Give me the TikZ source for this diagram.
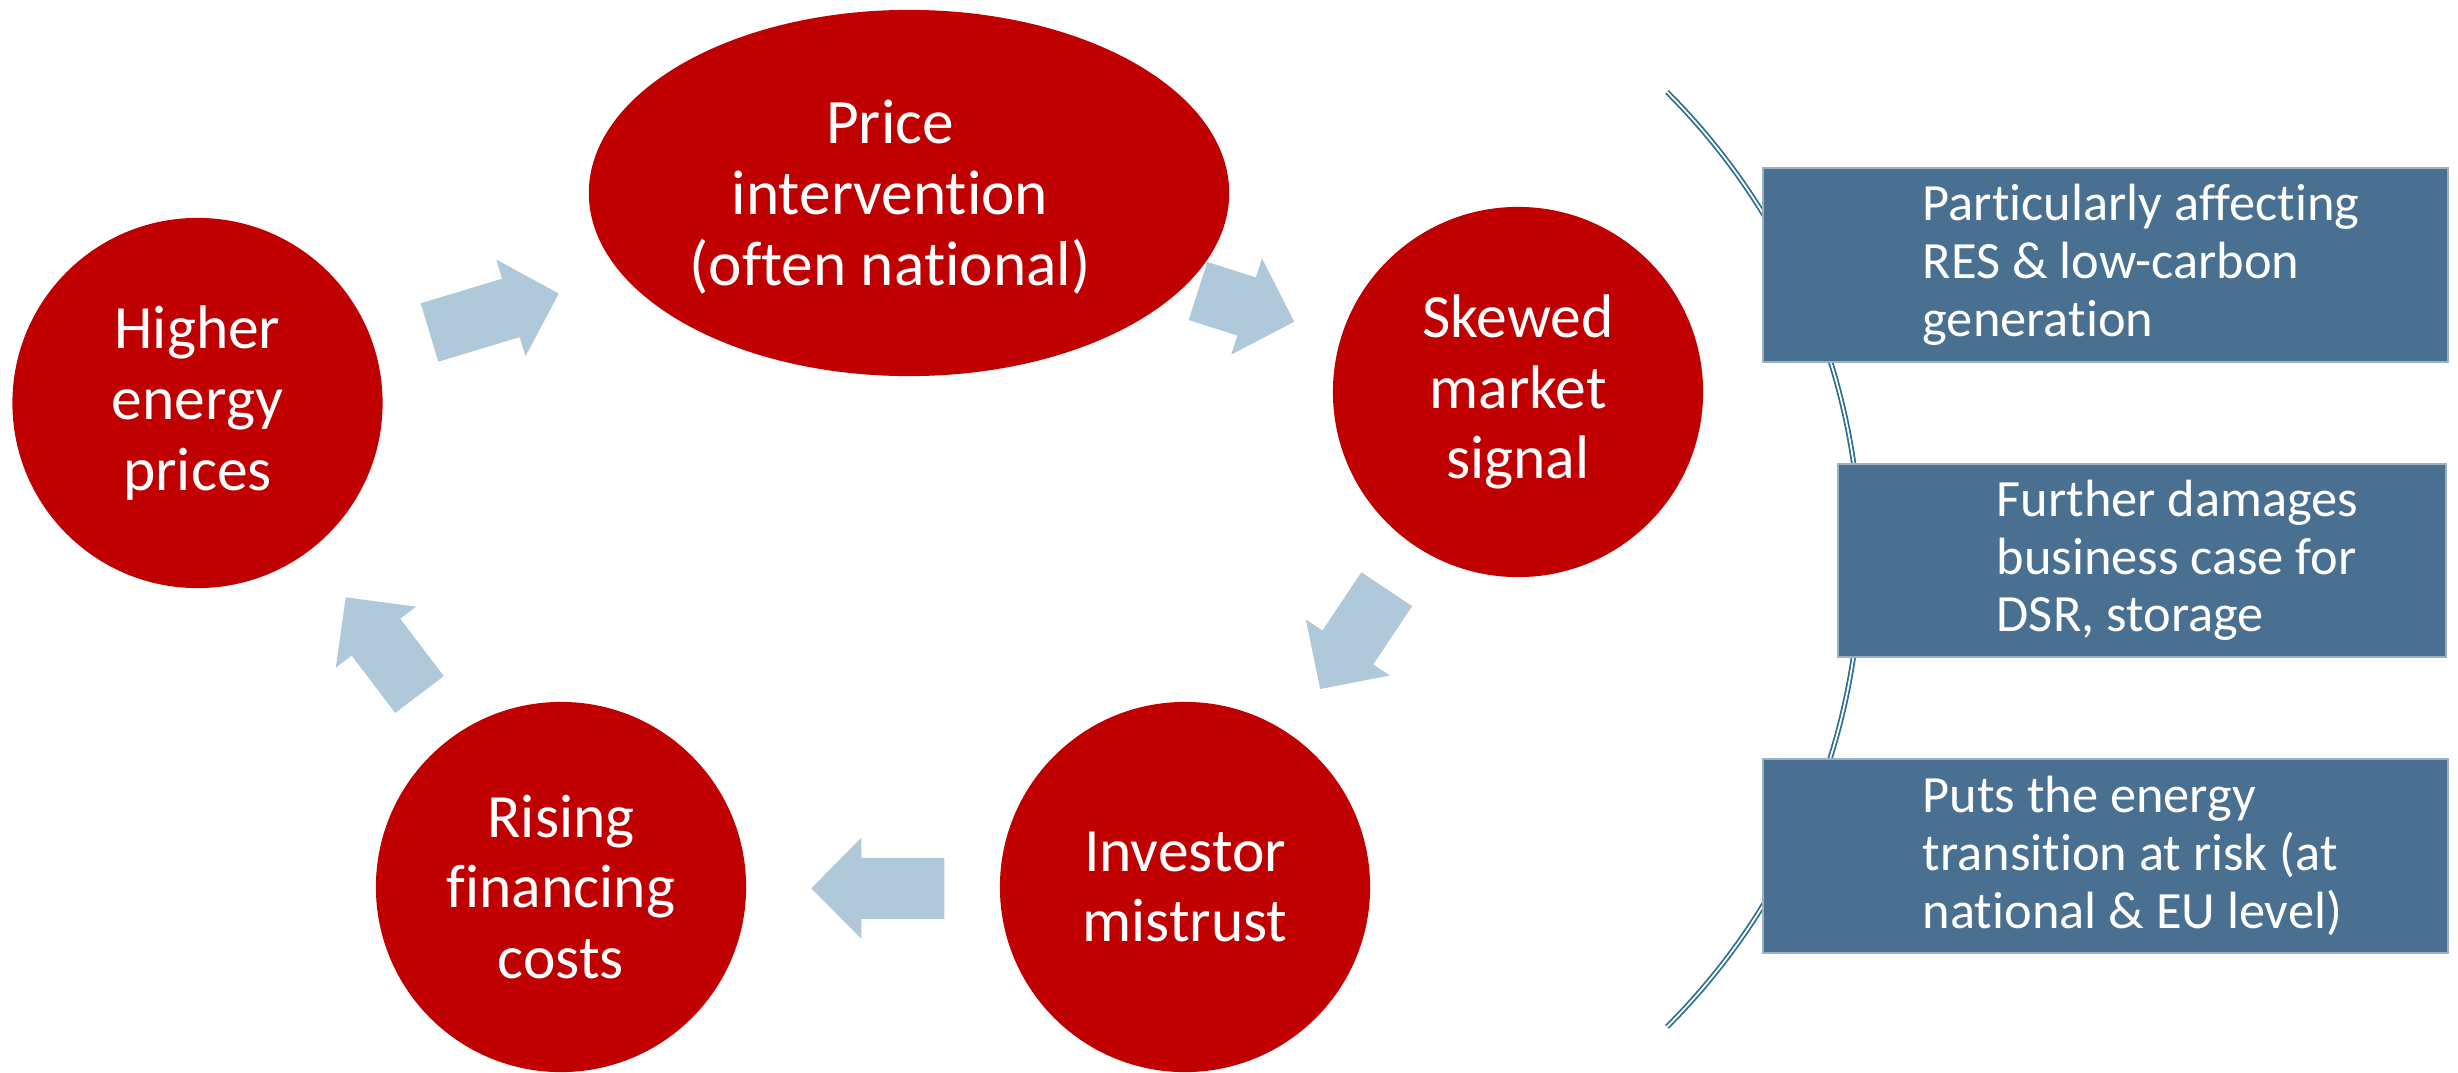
\documentclass[tikz,border=0pt]{standalone}
\usepackage{fontspec}
\setmainfont{Carlito}[Ligatures=NoCommon]
\usetikzlibrary{shapes.geometric}
\definecolor{cyclered}{HTML}{C00000}
\definecolor{flowblue}{HTML}{AFC8DA}
\definecolor{panelblue}{HTML}{4A7091}
\definecolor{bracketblue}{HTML}{2B6F8E}

\begin{document}
\begin{tikzpicture}[x=0.01cm,y=-0.01cm,
  stage/.style={circle, fill=cyclered, minimum size=3.7cm, inner sep=0pt,
    text=white, align=center, font=\fontsize{17.5pt}{20.1pt}\selectfont},
  stagetext/.style={text=white, align=center, inner sep=0pt,
    font=\fontsize{18pt}{20.3pt}\selectfont},
  panel/.style={rectangle, fill=panelblue, draw=panelblue!55!white,
    line width=0.6pt, inner sep=0pt},
  paneltext/.style={text=white, align=left, inner sep=0pt, anchor=west,
    font=\fontsize{14.9pt}{16.4pt}\selectfont},
  bracket/.style={draw=bracketblue, line width=0.5pt, double=white,
    double distance=0.5pt},
  pics/blockarrow/.style={code={
    \fill[flowblue] (0,-30.5) -- ({#1-50},-30.5) -- ({#1-50},-50.5) -- (#1,0)
      -- ({#1-50},50.5) -- ({#1-50},30.5) -- (0,30.5) -- cycle;}}
]
\useasboundingbox (0,0) rectangle (2458,1073);

% cycle stages
\node[stage] (higher) at (197.5,403) {Higher\\energy\\prices};
\node[ellipse, fill=cyclered, minimum width=6.4cm, minimum height=3.66cm,
  inner sep=0pt] (price) at (909,193) {};
\node[stagetext] (pricetext) at (890,197) {Price\\intervention\\(often national)};
\node[stage] (skewed) at (1518,392) {Skewed\\market\\signal};
\node[stage] (investor) at (1185,887) {Investor\\mistrust};
\node[stage] (rising) at (561,887) {Rising\\financing\\costs};

% block arrows between the stages
\pic[rotate=16.8] at (429.5,332.5) {blockarrow=135};
\pic[rotate=-17.7] at (1198,291) {blockarrow=101};
\pic[rotate=-123.7] at (1386.7,589.2) {blockarrow=120};
\pic[rotate=180] at (944.3,888.3) {blockarrow=133};
\pic[rotate=127.2] at (419.5,694.5) {blockarrow=122};

% bracket arc behind the consequence panels
\coordinate (arctop) at (1667,92);
\draw[bracket] (arctop) arc[start angle=-45, end angle=45, radius=661];

% consequence panels
\node[panel, minimum width=6.85cm, minimum height=1.94cm] (res) at (2105.5,264.7) {};
\node[paneltext] (restext) at (1922,264.7)
  {Particularly affecting\\RES \& low-carbon\\generation};
\node[panel, minimum width=6.08cm, minimum height=1.93cm] (dsr) at (2142,560.5) {};
\node[paneltext] (dsrtext) at (1996,560.5)
  {Further damages\\business case for\\DSR, storage};
\node[panel, minimum width=6.85cm, minimum height=1.934cm] (risk) at (2105.5,856) {};
\node[paneltext] (risktext) at (1922,856)
  {Puts the energy\\transition at risk (at\\national \& EU level)};
\end{tikzpicture}
\end{document}
